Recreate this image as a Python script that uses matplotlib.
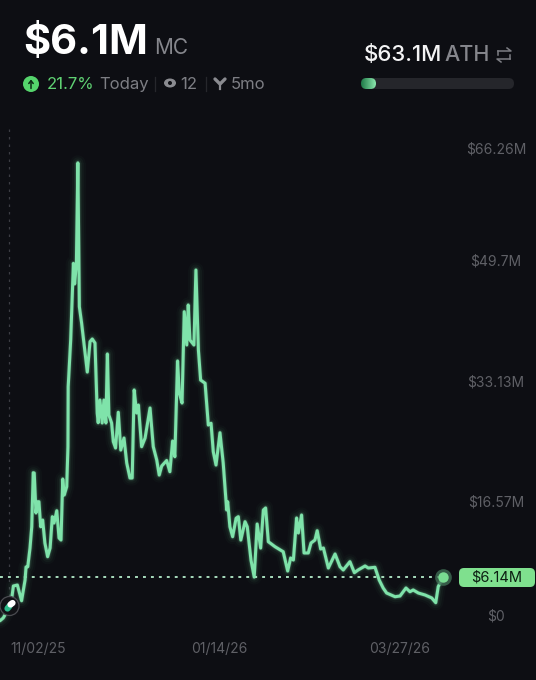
import matplotlib
matplotlib.use("Agg")
import matplotlib.pyplot as plt
import numpy as np
from matplotlib.patches import Circle, FancyBboxPatch
from matplotlib.transforms import ScaledTranslation

plt.rcParams['font.family'] = ['Inter', 'DejaVu Sans']

# ---- data ----
days = [0, 1.3, 2.0, 4.0, 4.8, 5.4, 7.0, 8.7, 10.1, 10.5, 11.2, 12.1, 12.8, 13.4, 13.8, 14.5, 15.0, 15.7, 16.4, 17.2,
        18.1, 19.2, 20.2, 21.1, 21.8, 22.9, 23.8, 24.6, 25.3, 25.9, 26.9, 27.4, 27.5, 28.5, 29.6, 30.1, 30.8, 31.4,
        32.0, 32.9, 34.3, 35.2, 36.3, 37.2, 38.3, 39.2, 39.6, 40.3, 41.2, 41.9, 42.7, 43.3, 43.9, 45.0, 45.7, 46.6,
        47.7, 48.7, 50.0, 51.1, 52.4, 53.3, 54.1, 55.1, 55.8, 57.1, 58.5, 60.5, 61.8, 63.2, 64.2, 65.2, 67.2, 68.5,
        69.6, 70.5, 71.6, 72.3, 73.4, 74.3, 75.3, 75.9, 76.6, 78.2, 79.0, 80.0, 80.9, 82.7, 84.0, 85.1, 86.0, 87.1,
        88.7, 90.0, 91.4, 91.8, 92.7, 93.8, 95.2, 96.1, 97.1, 98.8, 99.7, 101.2, 102.5, 103.7, 105.1, 106.2, 107.1,
        108.2, 110.9, 114.2, 116.0, 117.2, 118.3, 119.6, 120.3, 121.6, 122.6, 124.3, 125.4, 127.0, 127.9, 129.3,
        130.4, 132.4, 135.1, 137.1, 138.4, 141.1, 142.9, 144.4, 147.2, 148.5, 151.2, 152.9, 154.5, 155.9, 159.3,
        161.3, 163.7, 165.3, 166.6, 168.7, 171.4, 174.1, 175.7, 176.7, 178.6]
market_cap = [0.12, 0.50, 0.91, 2.15, 3.38, 4.90, 5.03, 2.87, 5.72, 7.51, 7.55, 10.12, 13.05, 20.48, 20.44, 14.94, 16.49, 16.49, 13.05, 13.97,
              10.81, 8.93, 10.12, 14.43, 13.56, 15.25, 11.50, 11.22, 19.61, 17.41, 18.56, 24.06, 32.31, 38.73, 49.28, 46.44, 49.19, 63.10,
              43.31, 41.07, 36.95, 34.33, 38.50, 38.87, 38.32, 28.69, 27.36, 30.48, 27.32, 30.48, 27.32, 36.81, 28.42, 27.32, 24.75, 23.88,
              28.79, 23.60, 25.25, 21.82, 19.75, 19.75, 31.86, 28.69, 29.79, 24.06, 25.25, 29.38, 24.06, 22.23, 20.16, 21.40, 22.16, 20.62,
              24.84, 22.68, 35.85, 31.44, 30.07, 42.63, 38.05, 43.55, 38.73, 38.05, 48.36, 37.36, 33.23, 32.78, 27.04, 27.28, 23.37, 21.54,
              25.98, 21.82, 15.35, 16.49, 13.05, 11.68, 14.21, 14.43, 11.22, 13.74, 13.05, 8.47, 6.13, 13.42, 10.12, 15.35, 15.63,
              10.99, 10.30, 9.61, 6.96, 8.75, 8.47, 14.25, 12.19, 14.66, 9.44, 9.44, 10.81, 11.22, 12.50, 9.99,
              10.12, 7.37, 9.30, 7.55, 7.10, 8.24, 6.73, 7.10, 7.65, 7.37, 7.47, 5.72, 4.62, 3.93, 3.42,
              3.52, 4.62, 4.11, 4.35, 3.93, 3.66, 3.25, 2.60, 4.80, 6.14]
y_ticks = [0, 16.57, 33.13, 49.7, 66.26]
y_labels = ['$0', '$16.57M', '$33.13M', '$49.7M', '$66.26M']
x_ticks = [15.3, 88.3, 161.3]
x_labels = ['11/02/25', '01/14/26', '03/27/26']
current = 6.14

BG = '#0d0e13'
LINE = '#7fe3aa'
GRAY = '#5f6066'
W, H = 536, 680

fig = plt.figure(figsize=(W / 100, H / 100), dpi=100, facecolor=BG)

# chart axes: 2.48 px per day, 7.27 px per $M
L, R, T, B = 0, 452, 125, 635
ax = fig.add_axes([L / W, 1 - B / H, (R - L) / W, (B - T) / H], facecolor='none')
ax.set_xlim(0, 452 / 2.48)
ax.set_ylim((621.6 - B) / 7.27, (621.6 - T) / 7.27)
for s in ax.spines.values():
    s.set_visible(False)

for lw, a in [(11, 0.025), (8, 0.04), (5, 0.08), (3.2, 0.2)]:
    ax.plot(days, market_cap, color=LINE, lw=lw, alpha=a, solid_joinstyle='round', solid_capstyle='round', clip_on=False)
ax.plot(days, market_cap, color=LINE, lw=2.2, solid_joinstyle='round', solid_capstyle='round', clip_on=False, zorder=3)

ax.plot([0, days[-1]], [current, current], color='#b4ecca', lw=1.3, dashes=(1.6, 2.8), zorder=2)
ax.axvline(3.8, color='#3c3d43', lw=0.9, dashes=(2, 4), ymin=0.06, zorder=1)

ax.plot([days[-1]], [current], 'o', ms=12, color='#3f6d54', mew=0, zorder=4, alpha=0.8, clip_on=False)
ax.plot([days[-1]], [current], 'o', ms=7.5, color='#79dc92', mew=0, zorder=5, clip_on=False)

ax.yaxis.tick_right()
ax.set_yticks(y_ticks)
ax.set_yticklabels(y_labels, ha='center', color=GRAY, fontsize=10)
ax.set_xticks(x_ticks)
ax.set_xticklabels(x_labels, color=GRAY, fontsize=10)
ax.tick_params(axis='y', length=0, pad=31.7)
ax.tick_params(axis='x', length=0, pad=5)

# the outermost y labels are pulled inwards
labs = ax.get_yticklabels()
labs[0].set_transform(labs[0].get_transform() + ScaledTranslation(0, 6.6 / 100, fig.dpi_scale_trans))
labs[-1].set_transform(labs[-1].get_transform() + ScaledTranslation(0, -8 / 100, fig.dpi_scale_trans))

# header and annotation overlay in pixel coordinates
ui = fig.add_axes([0, 0, 1, 1], facecolor='none')
ui.set_xlim(0, W)
ui.set_ylim(H, 0)
ui.axis('off')

def label(x, y, s, color, size, weight='normal', ha='left'):
    ui.text(x, y, s, color=color, fontsize=size, fontweight=weight, ha=ha, va='baseline')

label(23, 54, '$6.1M', '#ffffff', 30, 'bold')
label(154, 54, 'MC', '#85868c', 15)
ui.add_patch(Circle((31, 84), 8, color='#55d46c', lw=0))
ui.annotate('', xy=(31, 79.5), xytext=(31, 88.5),
            arrowprops=dict(arrowstyle='->,head_width=0.16,head_length=0.2', color='#0d2b15', lw=1.1, shrinkA=0, shrinkB=0))
label(46.5, 89, '21.7%', '#5fd173', 12)
label(99, 89, 'Today', '#7d7e84', 12)
ui.plot([155, 155], [77, 91], color='#26272c', lw=0.9)
# eye
ui.add_patch(matplotlib.patches.Ellipse((170, 83), 12, 9, color='#8a8b90', lw=0))
ui.add_patch(Circle((170, 83), 2, color=BG, lw=0))
label(180, 89, '12', '#7d7e84', 12)
ui.plot([205.5, 205.5], [77, 91], color='#26272c', lw=0.9)
# sprout
ui.plot([220, 220], [84, 89], color='#8a8b90', lw=1.6)
ui.plot([215, 220, 225], [79, 84, 79], color='#8a8b90', lw=2.4, solid_capstyle='round')
label(231, 89, '5mo', '#7d7e84', 12)

label(364, 61, '$63.1M', '#f4f4f5', 16, 500)
label(444.5, 61, 'ATH', '#85868c', 15.5, 500)
# swap icon
ui.plot([498, 511, 507], [51, 51, 48], color='#7d7e84', lw=1.1)
ui.plot([498, 498], [51, 55], color='#7d7e84', lw=1.1)
ui.plot([510, 497, 501], [59, 59, 62], color='#7d7e84', lw=1.1)
ui.plot([510, 510], [59, 55], color='#7d7e84', lw=1.1)

# progress bar
ui.add_patch(FancyBboxPatch((361, 78), 153, 11, boxstyle='round,pad=0,rounding_size=5.5', fc='#25262b', ec='none'))
fill = FancyBboxPatch((361, 78), 15, 11, boxstyle='round,pad=0,rounding_size=5.5', fc='none', ec='none')
ui.add_patch(fill)
im = ui.imshow(np.linspace(0, 1, 32).reshape(1, -1), extent=(361, 376, 89, 78), aspect='auto',
               cmap=matplotlib.colors.LinearSegmentedColormap.from_list('g', ['#1f7a48', '#8be8ad']), zorder=3)
im.set_clip_path(fill)
ui.set_xlim(0, W)
ui.set_ylim(H, 0)

# price pill
ui.add_patch(FancyBboxPatch((459, 568), 76, 19, boxstyle='round,pad=0,rounding_size=5', fc='#7fe08e', ec='none'))
ui.text(497, 577.5, '$6.14M', color='#0c1f12', fontsize=10.5, ha='center', va='center')

# pill marker
ui.add_patch(Circle((9.5, 606), 9.5, fc='#111216', ec='#4a4b50', lw=0.9, zorder=5))
ui.plot([7.5, 9.5], [608.5, 606], color='#2dbb8a', lw=4.5, solid_capstyle='round', zorder=6)
ui.plot([10.5, 12.5], [604.5, 603], color='#ffffff', lw=4.5, solid_capstyle='round', zorder=6)

fig.savefig('out.png', dpi=100, facecolor=BG)
